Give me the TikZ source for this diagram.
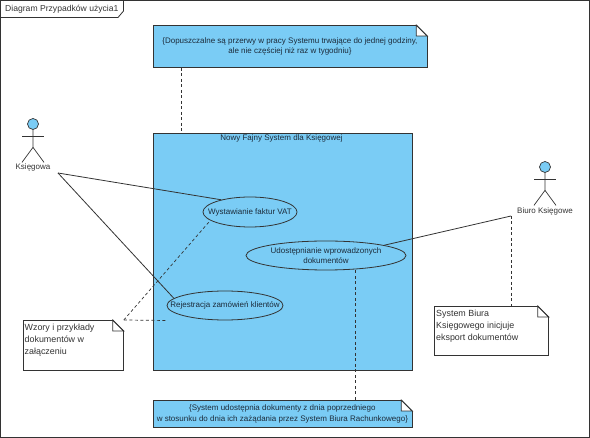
\documentclass[tikz,border=0pt]{standalone}
\usepackage{fontspec}
\setmainfont{Liberation Sans}
\usetikzlibrary{shapes.geometric}
\definecolor{umlblue}{HTML}{7ACCF5}
\definecolor{umlline}{HTML}{333333}
\definecolor{umltext}{HTML}{1C2B3A}
\tikzset{
    umlnote/.style={draw=umlline, line width=0.8pt, anchor=north west, inner sep=0pt},
    bluenote/.style={umlnote, fill=umlblue, text=umltext, align=center, font=\fontsize{8}{10.6}\selectfont},
    whitenote/.style={umlnote, fill=white},
    notetext/.style={anchor=north west, inner sep=0pt, align=left, text=black!80, font=\fontsize{8.9}{12.3}\selectfont},
    usecase/.style={ellipse, draw=umlline, line width=0.8pt, inner sep=0pt},
    casetext/.style={text=umltext, align=center, inner sep=0pt, font=\fontsize{8}{10.6}\selectfont},
    actorhead/.style={circle, draw=umlline, fill=umlblue, line width=0.7pt, minimum size=11pt, inner sep=0pt},
    actorlabel/.style={text=black!80, inner sep=0pt, font=\fontsize{8}{10.6}\selectfont},
    assoc/.style={draw=umlline, line width=0.8pt},
    anchorline/.style={draw=umlline, line width=0.7pt, dash pattern=on 3pt off 2.5pt},
}
% zagiete rogi notatek
\newcommand{\notefold}[1]{
    \filldraw[draw=umlline, fill=white, line width=0.8pt]
        ([xshift=-11pt]#1.north east) -- ([xshift=-11pt,yshift=-11pt]#1.north east) -- ([yshift=-11pt]#1.north east) -- cycle;
    \fill[white] ([xshift=-11pt,yshift=0.6pt]#1.north east) -- ([xshift=0.6pt,yshift=0.6pt]#1.north east) -- ([xshift=0.6pt,yshift=-11pt]#1.north east) -- cycle;
    \draw[draw=umlline, line width=0.8pt] ([xshift=-11pt]#1.north east) -- ([yshift=-11pt]#1.north east);
}
\begin{document}
\begin{tikzpicture}[x=1pt, y=-1pt]
    \useasboundingbox (0,0) rectangle (590,438);

    % ramka diagramu
    \draw[umlline, line width=1pt] (0.5,0.5) rectangle (589.5,437.5);
    \draw[umlline, line width=0.8pt] (0.5,17.5) -- (118,17.5) -- (123.5,11) -- (123.5,0.5);
    \node[anchor=west, inner sep=0pt, text=black!80, font=\fontsize{8.6}{11}\selectfont] (frametitle) at (5,9.5) {Diagram Przypadków użycia1};

    % system
    \node[draw=umlline, fill=umlblue, line width=0.8pt, anchor=north west, minimum width=259pt, minimum height=237pt, inner sep=0pt] (system) at (152.5,133) {};
    \node[casetext] (systemtitle) at (281.5,138.5) {Nowy Fajny System dla Księgowej};

    % przypadki uzycia
    \node[usecase, minimum width=94pt, minimum height=30pt, label={[casetext]center:Wystawianie faktur VAT}] (faktury) at (250,212) {};
    \node[usecase, minimum width=116pt, minimum height=29pt, label={[casetext]center:Rejestracja zamówień klientów}] (zamowienia) at (225,305.5) {};
    \node[usecase, minimum width=160pt, minimum height=29pt, label={[casetext]center:{Udostępnianie wprowadzonych\\dokumentów}}] (dokumenty) at (326,255.5) {};

    % aktorzy
    \node[actorhead] (ksiegowa) at (33,124) {};
    \draw[umlline, line width=0.7pt] (ksiegowa.south) -- ++(0,17.5) -- ++(-11,15);
    \draw[umlline, line width=0.7pt] (ksiegowa.south) ++(0,17.5) -- ++(11,15);
    \draw[umlline, line width=0.8pt] (ksiegowa.south) ++(-11,6.5) -- ++(22,0);
    \node[actorlabel] (ksiegowalabel) at (33,167) {Księgowa};

    \node[actorhead] (biuro) at (545,167) {};
    \draw[umlline, line width=0.7pt] (biuro.south) -- ++(0,17.5) -- ++(-11,15);
    \draw[umlline, line width=0.7pt] (biuro.south) ++(0,17.5) -- ++(11,15);
    \draw[umlline, line width=0.8pt] (biuro.south) ++(-11,6.5) -- ++(22,0);
    \node[actorlabel] (biurolabel) at (545,211) {Biuro Księgowe};

    % notatki
    \node[bluenote, minimum width=274pt, minimum height=42pt] (notegodziny) at (152.5,25) {\{Dopuszczalne są przerwy w pracy Systemu trwające do jednej godziny,\\ale nie częściej niż raz w tygodniu\}};
    \notefold{notegodziny}
    \node[bluenote, minimum width=259pt, minimum height=27.5pt] (noteeksport) at (152.5,400) {\{System udostępnia dokumenty z dnia poprzedniego\\w stosunku do dnia ich zażądania przez System Biura Rachunkowego\}};
    \notefold{noteeksport}
    \node[whitenote, minimum width=100pt, minimum height=50pt] (notewzory) at (23,320) {};
    \node[notetext] (notewzorytext) at (24.5,323.5) {Wzory i przykłady\\dokumentów w\\załączeniu};
    \notefold{notewzory}
    \node[whitenote, minimum width=114pt, minimum height=49.5pt] (notebiuro) at (434,306) {};
    \node[notetext] (notebiurotext) at (436,309.5) {System Biura\\Księgowego inicjuje\\eksport dokumentów};
    \notefold{notebiuro}

    % polaczenia
    \coordinate (ksiegowaend) at (58,173);
    \coordinate (biuroend) at (511,216);
    \coordinate (zamowieniaend) at (167,320.5);
    \coordinate (godzinylink) at (181,0);
    \coordinate (eksportlink) at (355,0);
    \draw[assoc] (ksiegowaend) -- (faktury.157);
    \draw[assoc] (ksiegowaend) -- (zamowienia.172);
    \draw[assoc] (biuroend) -- (dokumenty.10);
    \draw[anchorline] (godzinylink |- notegodziny.south) -- (godzinylink |- system.north);
    \draw[anchorline] (eksportlink |- dokumenty.south) -- (eksportlink |- noteeksport.north);
    \draw[anchorline] (notewzory.north east) -- (faktury.192);
    \draw[anchorline] (notewzory.north east) -- (zamowieniaend);
    \draw[anchorline] (biuroend) -- (biuroend |- notebiuro.north);
\end{tikzpicture}
\end{document}
